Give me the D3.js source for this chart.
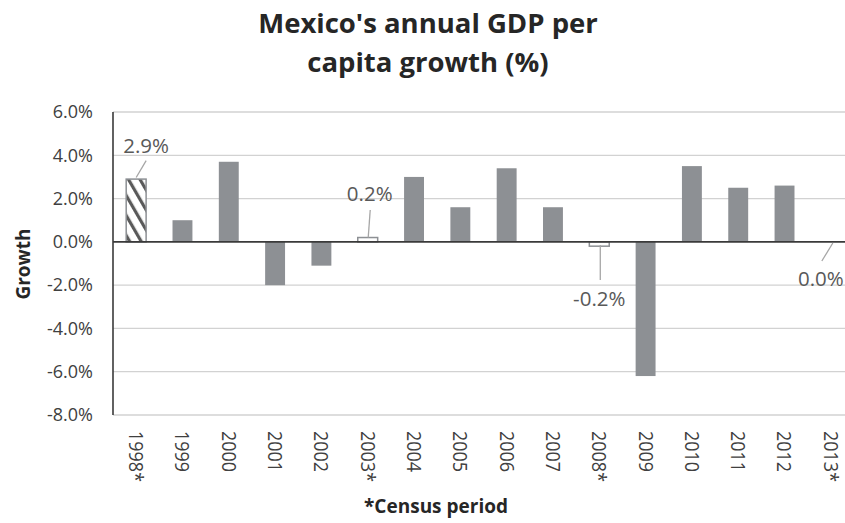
<!DOCTYPE html>
<html>
<head>
<meta charset="utf-8">
<script src="https://cdn.jsdelivr.net/npm/d3@7"></script>
<style>
  html, body { margin: 0; padding: 0; background: #fff; }
  svg { display: block; font-family: "Open Sans", "DejaVu Sans", sans-serif; }
</style>
</head>
<body>
<svg id="chart" width="845" height="523"></svg>
<script>
// ---- data ----
const years = ["1998*", "1999", "2000", "2001", "2002", "2003*", "2004", "2005",
               "2006", "2007", "2008*", "2009", "2010", "2011", "2012", "2013*"];
const growth = [2.9, 1.0, 3.7, -2.0, -1.1, 0.2, 3.0, 1.6, 3.4, 1.6, -0.2, -6.2, 3.5, 2.5, 2.6, 0.0];
const yTicks = [6, 4, 2, 0, -2, -4, -6, -8];
const labeledYears = ["1998*", "2003*", "2008*", "2013*"];
const titleLines = ["Mexico's annual GDP per", "capita growth (%)"];
const yTitle = "Growth";
const xTitle = "*Census period";

// ---- layout ----
const svg = d3.select("#chart");
const pLeft = 113, pTop = 112, pBottom = 415, pRight = 854;

const x = d3.scaleBand().domain(years).range([pLeft, pRight]).paddingInner(0.57).paddingOuter(0.285);
const y = d3.scaleLinear().domain([-8, 6]).range([pBottom, pTop]);

// hatch pattern
const defs = svg.append("defs");
const pat = defs.append("pattern").attr("id", "hatch").attr("patternUnits", "userSpaceOnUse")
  .attr("width", 10).attr("height", 10).attr("patternTransform", "rotate(-30)");
pat.append("rect").attr("width", 10).attr("height", 10).attr("fill", "#fff");
pat.append("rect").attr("x", 0).attr("y", 0).attr("width", 3.2).attr("height", 10).attr("fill", "#5a5a5a");

// gridlines
svg.append("g").selectAll("line").data(yTicks.filter(d => d !== 0)).join("line")
  .attr("x1", pLeft).attr("x2", 845)
  .attr("y1", d => y(d)).attr("y2", d => y(d))
  .attr("stroke", "#d2d2d2").attr("stroke-width", 1.3);

// y tick labels
const yAxis = d3.axisLeft(y).tickValues(yTicks).tickSize(0).tickPadding(20)
  .tickFormat(d => d.toFixed(1) + "%");
const yg = svg.append("g").attr("transform", `translate(${pLeft},0)`).call(yAxis);
yg.select(".domain").remove();
yg.selectAll("text").attr("font-size", 18).attr("fill", "#404040")
  .attr("font-family", "'Open Sans', sans-serif");

// bars
const plain = d => !labeledYears.includes(d.year);
const data = years.map((yr, i) => ({ year: yr, v: growth[i] }));
svg.append("g").selectAll("rect").data(data).join("rect")
  .attr("x", d => x(d.year))
  .attr("width", x.bandwidth())
  .attr("y", d => y(Math.max(0, d.v)))
  .attr("height", d => Math.abs(y(d.v) - y(0)))
  .attr("fill", d => d.year === "1998*" ? "url(#hatch)" : (plain(d) ? "#8d9094" : "#fff"))
  .attr("stroke", d => plain(d) ? "none" : (d.v === 0 ? "none" : "#8d9094"))
  .attr("stroke-width", 1.5);

// zero line & left axis line
svg.append("line").attr("x1", pLeft).attr("x2", 845).attr("y1", y(0)).attr("y2", y(0))
  .attr("stroke", "#3a3a3a").attr("stroke-width", 1.6);
svg.append("line").attr("x1", pLeft).attr("x2", pLeft).attr("y1", pTop).attr("y2", pBottom)
  .attr("stroke", "#3a3a3a").attr("stroke-width", 1.6);

// data labels with leader lines (census years)
const labelSpec = {
  "1998*": { dx: 10, ty: 152.5, l1: [10, 160.7], l2: [0, 177.5] },
  "2003*": { dx: 2, ty: 200.5, l1: [2.5, 210], l2: [0.5, 237.5] },
  "2008*": { dx: 0, ty: 305.5, l1: [1, 280], l2: [1, 245] },
  "2013*": { dx: -10, ty: 285.5, l1: [-9, 261], l2: [2, 243] }
};
const lab = svg.append("g");
data.filter(d => labeledYears.includes(d.year)).forEach(d => {
  const s = labelSpec[d.year];
  const cx = x(d.year) + x.bandwidth() / 2;
  lab.append("line").attr("x1", cx + s.l1[0]).attr("y1", s.l1[1])
    .attr("x2", cx + s.l2[0]).attr("y2", s.l2[1])
    .attr("stroke", "#a6a6a6").attr("stroke-width", 1.3);
  lab.append("text").attr("x", cx + s.dx).attr("y", s.ty)
    .attr("text-anchor", "middle").attr("font-size", 20.5).attr("fill", "#595959")
    .text(d.v.toFixed(1) + "%");
});

// category labels (rotated)
svg.append("g").selectAll("text").data(years).join("text")
  .attr("transform", d => `translate(${x(d) + x.bandwidth() / 2},431) rotate(90) scale(1,1.12)`)
  .attr("dy", "0.35em")
  .attr("font-size", 18).attr("fill", "#404040")
  .text(d => d);

// axis titles
svg.append("text").attr("transform", "translate(30,264) rotate(-90)")
  .attr("text-anchor", "middle").attr("font-size", 19).attr("font-weight", "bold")
  .attr("fill", "#262626").text(yTitle);
svg.append("text").attr("x", 436).attr("y", 513).attr("text-anchor", "middle")
  .attr("font-size", 19).attr("font-weight", "bold").attr("fill", "#262626").text(xTitle);

// title
svg.append("g").selectAll("text").data(titleLines).join("text")
  .attr("x", 428).attr("y", (d, i) => 33 + i * 39)
  .attr("text-anchor", "middle").attr("font-size", 27.5).attr("font-weight", "bold")
  .attr("fill", "#262626").text(d => d);
</script>
</body>
</html>
